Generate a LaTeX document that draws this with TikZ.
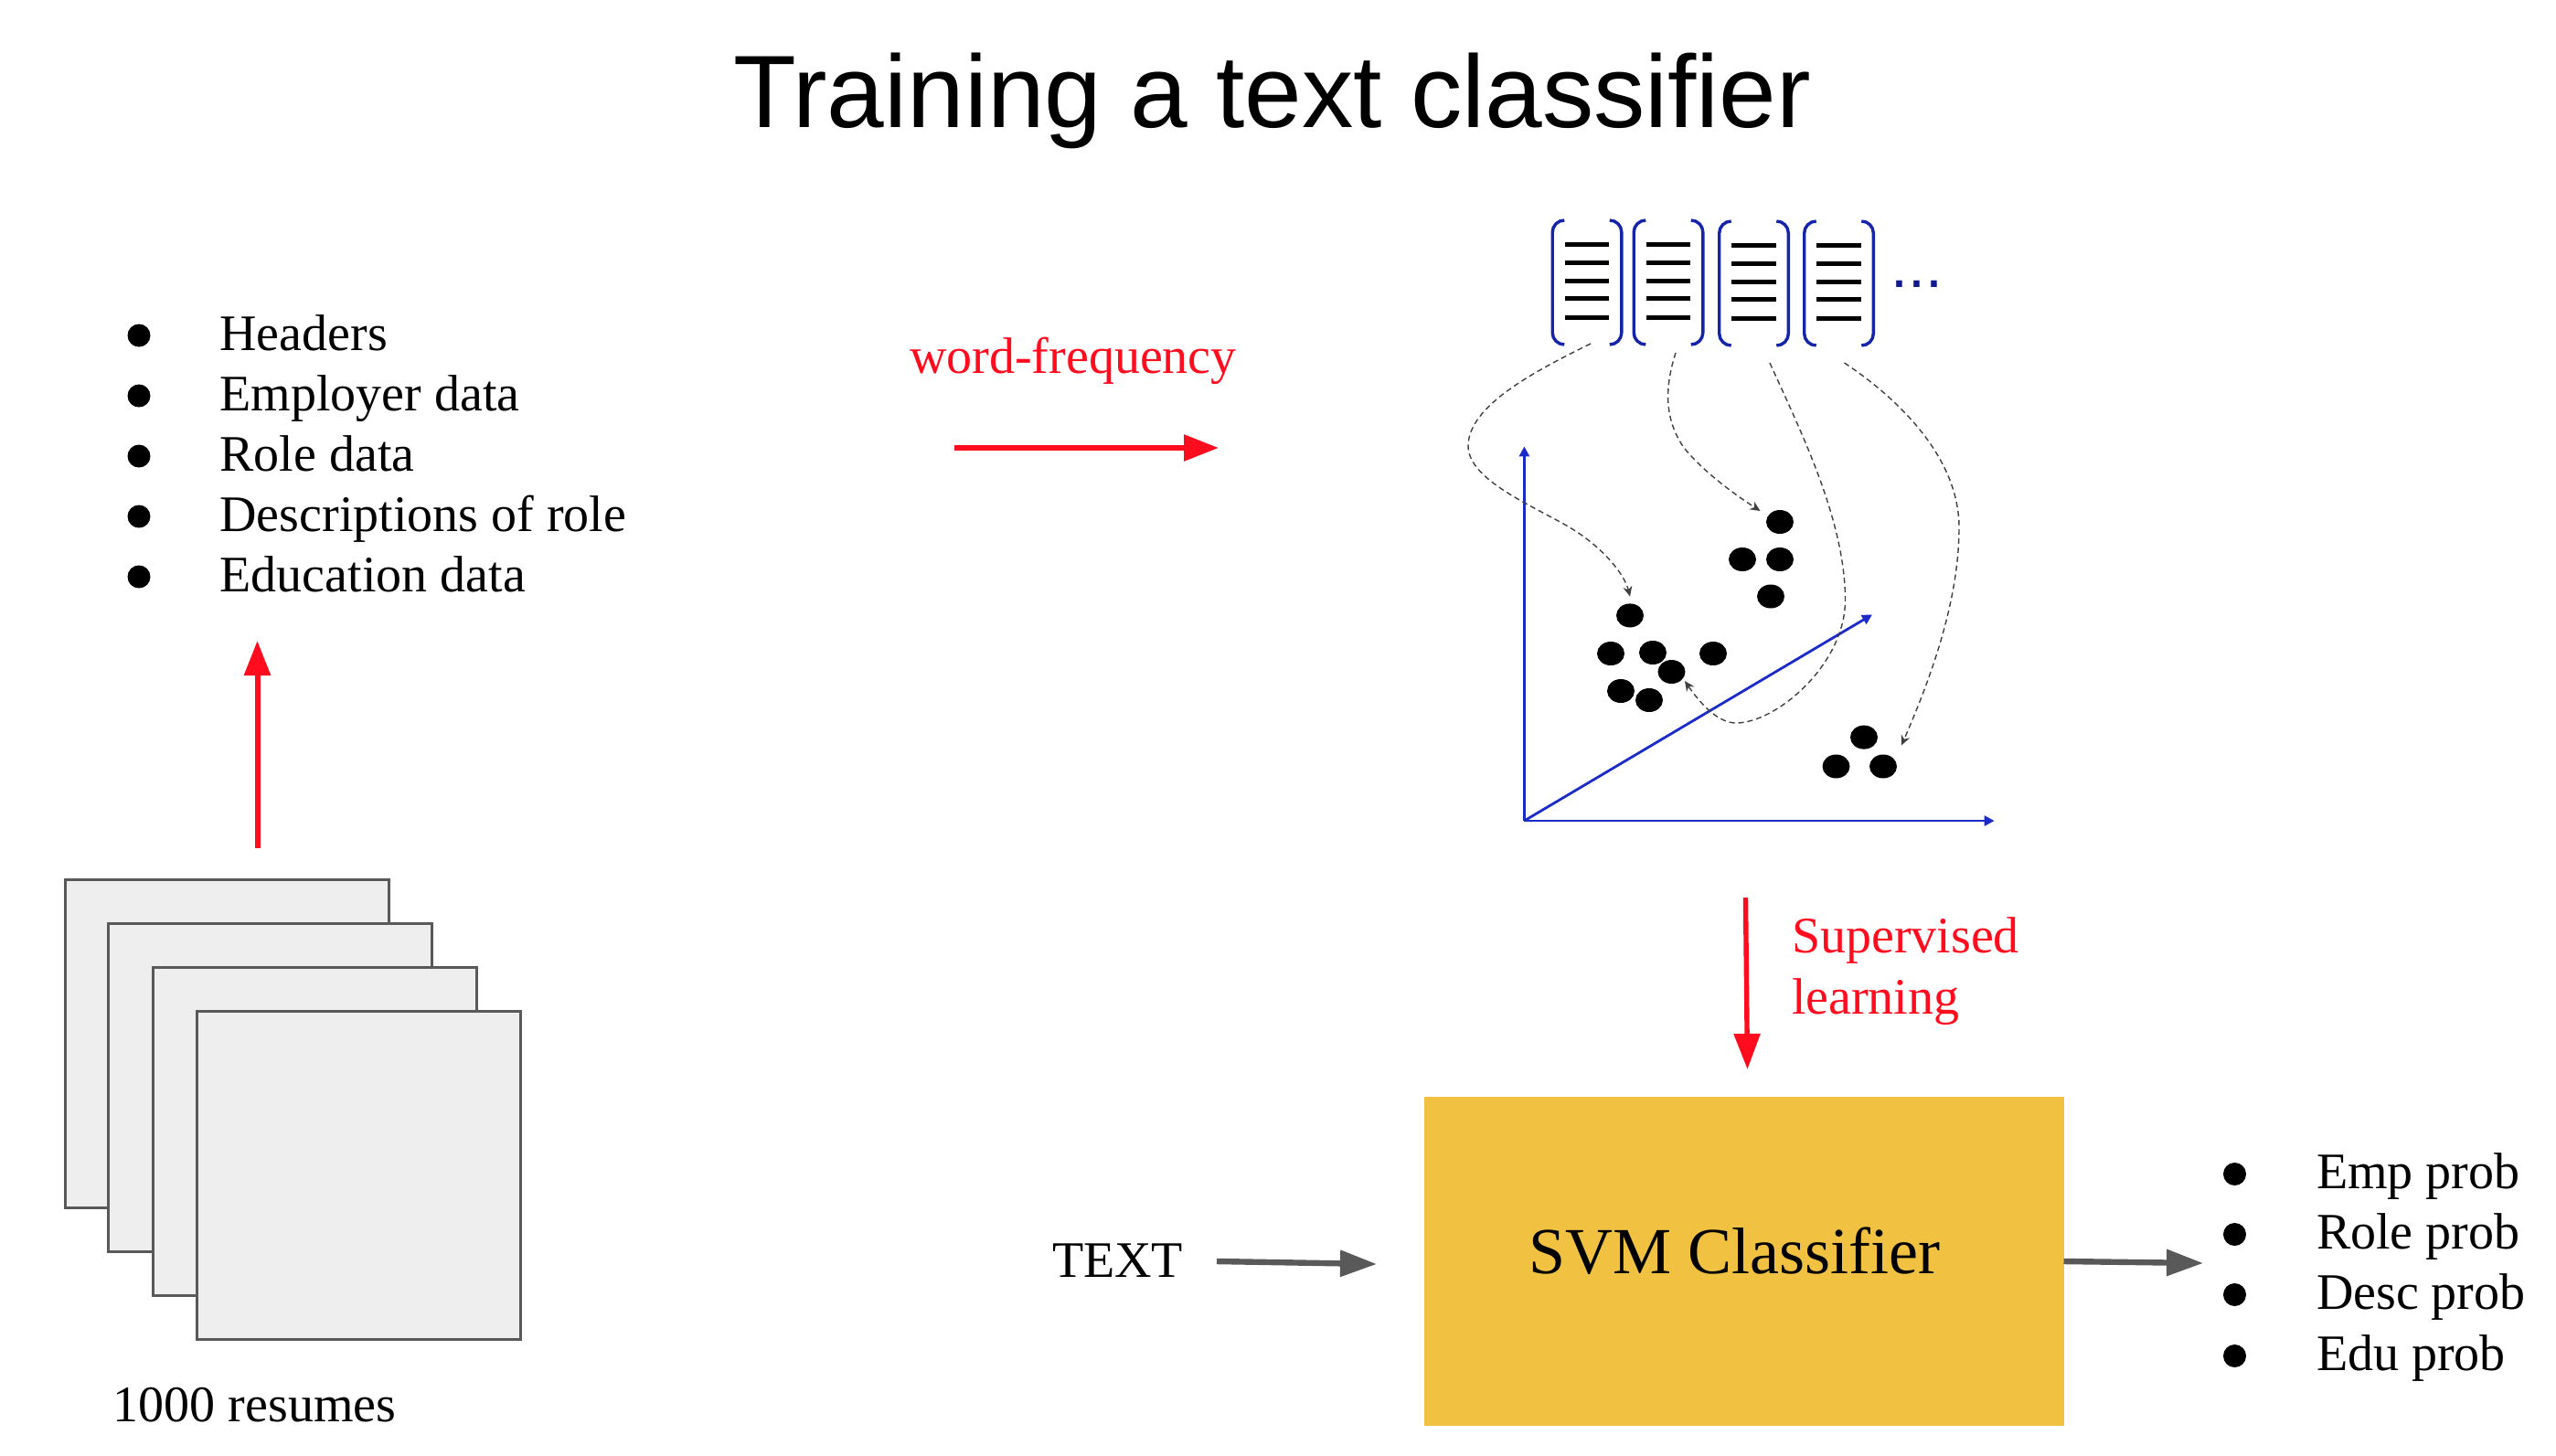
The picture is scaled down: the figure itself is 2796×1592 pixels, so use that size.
\documentclass[tikz,border=0pt]{standalone}
\usepackage{fontspec}
\setmainfont{Liberation Serif}
\newfontfamily\titlefont{Liberation Sans}
\usetikzlibrary{arrows.meta, shapes.geometric}
\definecolor{sheetgray}{HTML}{EEEEEE}
\definecolor{edgegray}{HTML}{595959}
\definecolor{redarrow}{HTML}{FF0D1F}
\definecolor{axisblue}{HTML}{1A2BC8}
\definecolor{bracketblue}{HTML}{1524A8}
\definecolor{dotsblue}{HTML}{0F1A8C}
\definecolor{svmyellow}{HTML}{F1C142}
\tikzset{
  every node/.style={inner sep=0pt, outer sep=0pt},
  listtext/.style={anchor=base west, font=\fontsize{28}{32}\selectfont}, % All the serif labels
  redtext/.style={listtext, text=redarrow},
  listdot/.style={circle, fill=black, minimum size=12.5pt},
  sheet/.style={draw=edgegray, fill=sheetgray, line width=1.5pt, anchor=north west,
    minimum width=177pt, minimum height=179.5pt},
  redflow/.style={draw=redarrow, line width=3pt, -{Triangle[length=19pt, width=14pt]}},
  grayflow/.style={draw=edgegray, line width=3.2pt, -{Triangle[length=20pt, width=14pt]}},
  axis/.style={draw=axisblue, line width=1.4pt, -{Triangle[length=5.5pt, width=5.5pt]}},
  docbox/.style={minimum width=37.8pt, minimum height=68pt},
  bracket/.style={draw=bracketblue, line width=1.7pt, rounded corners=6.5pt},
  docline/.style={draw=black, line width=2.5pt},
  point/.style={ellipse, fill=black, minimum width=15pt, minimum height=13pt},
  mapping/.style={draw=black!75, line width=0.7pt, dash pattern=on 3pt off 2pt,
    -{Stealth[length=5.5pt, width=5pt]}}}

\begin{document}
\begin{tikzpicture}[x=0.5pt, y=-0.5pt]
  \useasboundingbox (0,0) rectangle (2796,1592);
  \node[anchor=base, font=\titlefont\fontsize{56.3}{62}\selectfont] (title) at (1392,139) {Training a text classifier};

  % stack of resumes
  \foreach \n/\x/\y in {s1/71/962.4, s2/118.5/1010, s3/167/1058, s4/215/1106.6}
    \node[sheet] (\n) at (\x,\y) {};
  \node[listtext, anchor=base] (resumes) at (278.5,1555) {1000 resumes};
  \coordinate (stacktop) at (281.5,928);
  \coordinate (listbottom) at (281.5,701);
  \draw[redflow] (stacktop) -- (listbottom);

  % what is in a resume
  \foreach \n/\y/\t in {0/367/Headers, 1/433/Employer data, 2/499/Role data, 3/565/Descriptions of role, 4/631/Education data} {
    \node[listdot] (hd\n) at (152,\y) {};
    \node[listtext] (ht\n) at (240.5,\y+16) {\t};
  }

  \node[redtext, anchor=base] (wordfreq) at (1174,408) {word-frequency};
  \coordinate (wfstart) at (1044,490);
  \coordinate (wfend) at (1333,490);
  \draw[redflow] (wfstart) -- (wfend);

  % document vectors
  \foreach \n/\x/\y in {d1/1736/309, d2/1825/309, d3/1918.5/310, d4/2011.5/310} {
    \node[docbox] (\n) at (\x,\y) {};
    \draw[bracket] ([xshift=6.5pt]\n.north west) -- (\n.north west) -- (\n.south west) -- ([xshift=6.5pt]\n.south west);
    \draw[bracket] ([xshift=-6.5pt]\n.north east) -- (\n.north east) -- (\n.south east) -- ([xshift=-6.5pt]\n.south east);
    \foreach \k in {-42,-22,-2,17,38}
      \draw[docline] ([xshift=-12.2pt,yshift=-\k*0.5pt]\n.center) -- ([xshift=12.2pt,yshift=-\k*0.5pt]\n.center);
  }
  \node[anchor=base, text=dotsblue, font=\titlefont\fontsize{34}{40}\selectfont] (more) at (2097,314) {...};

  % vector space
  \coordinate (origin) at (1667.4,898);
  \coordinate (yend) at (1667.4,488.4);
  \coordinate (xend) at (2181.6,898);
  \coordinate (zend) at (2048,672.4);
  \draw[axis] (origin) -- (yend);
  \draw[axis] (origin) -- (xend);
  \draw[axis] (origin) -- (zend);

  \foreach \n/\x/\y in {p1/1947/571, p2/1906/612, p3/1947/612, p4/1937/652.5,
    p5/1783/673.4, p6/1762/715, p7/1808/714, p8/1828.5/735, p9/1874/715, p10/1773/756, p11/1804/766,
    p12/2039/806.6, p13/2008.5/838.5, p14/2060/838.5}
    \node[point] (\n) at (\x,\y) {};

  % each document lands on a cluster
  \coordinate (m1a) at (1740,376);
  \coordinate (m1b) at (1783,652.6);
  \coordinate (m2a) at (1833,385.9);
  \coordinate (m2b) at (1925.5,559);
  \coordinate (m3a) at (1936,397);
  \coordinate (m3b) at (1843,745);
  \coordinate (m4a) at (2017.5,397);
  \coordinate (m4b) at (2080,815.5);
  \draw[mapping] (m1a) .. controls (1679,406) and (1606,444) .. (1606,488)
    .. controls (1606,528) and (1689,558) .. (1725,582)
    .. controls (1754,601) and (1777,628) .. (m1b);
  \draw[mapping] (m2a) .. controls (1823,418) and (1818,453.6) .. (1841,488.4)
    .. controls (1860,513) and (1893,538) .. (m2b);
  \draw[mapping] (m3a) .. controls (1968,468.5) and (2018.5,568) .. (2018.5,656.5)
    .. controls (2018.5,727) and (1943,791) .. (1899,791)
    .. controls (1878,791) and (1858,767) .. (m3b);
  \draw[mapping] (m4a) .. controls (2072,433) and (2143,498) .. (2143,577)
    .. controls (2143,657.5) and (2112,742) .. (m4b);

  \node[redtext] (suptext) at (1960,1042.5) {Supervised};
  \node[redtext] (suptext2) at (1960,1109) {learning};
  \coordinate (supstart) at (1909.5,982);
  \node[fill=svmyellow, minimum width=350pt, minimum height=180pt] (svm) at (1907.5,1380) {};
  \node[listtext, anchor=base, font=\fontsize{36}{40}\selectfont] (svmtext) at (1897.5,1393.6) {SVM Classifier};
  \coordinate (suptip) at (1911.5,1170);
  \draw[redflow, line width=2.7pt, -{Triangle[length=19.5pt, width=14pt]}] (supstart) -- (suptip);

  \node[listtext] (intext) at (1151,1397.6) {TEXT};
  \coordinate (instart) at (1331,1380);
  \coordinate (inend) at (1506,1383);
  \draw[grayflow] (instart) -- (inend);
  \coordinate (outend) at (2410,1382);
  \draw[grayflow] (svm.east) -- (outend);

  % classifier outputs
  \foreach \n/\y/\t in {0/1284.5/Emp prob, 1/1350.5/Role prob, 2/1416.5/Desc prob, 3/1483.5/Edu prob} {
    \node[listdot] (od\n) at (2444.5,\y) {};
    \node[listtext] (ot\n) at (2534,\y+16) {\t};
  }
\end{tikzpicture}
\end{document}
